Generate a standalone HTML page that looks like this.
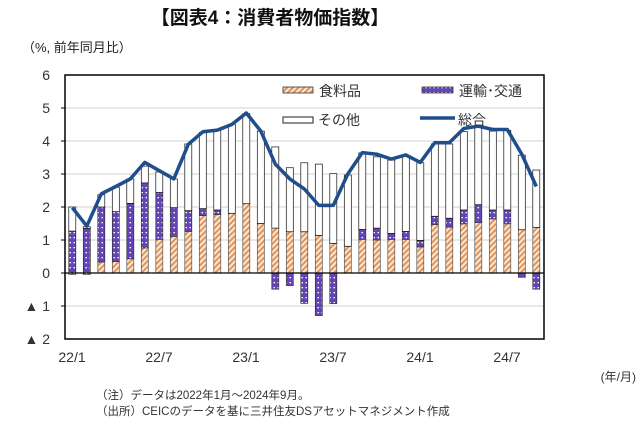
<!DOCTYPE html>
<html><head><meta charset="utf-8"><style>
body{margin:0;background:#fff;width:640px;height:425px;overflow:hidden;font-family:"Liberation Sans","Noto Sans CJK JP",sans-serif;}
svg{display:block}
</style></head><body>
<svg id="c" width="640" height="425" xmlns="http://www.w3.org/2000/svg" font-family="'Liberation Sans','Noto Sans CJK JP',sans-serif">
<defs>
<pattern id="pf" width="4" height="4" patternUnits="userSpaceOnUse" patternTransform="rotate(45)">
<rect width="4" height="4" fill="#fbe8d6"/><rect width="2" height="4" fill="#e0945a"/></pattern>
<pattern id="pt" width="4" height="5" patternUnits="userSpaceOnUse">
<rect width="4" height="5" fill="#6445b8"/><rect x="1.5" y="2" width="1.5" height="1.3" fill="#fff"/></pattern>
</defs>
<text x="270" y="24" font-size="19" font-weight="bold" text-anchor="middle" fill="#111">【図表4：消費者物価指数】</text>
<text x="22" y="52" font-size="13" fill="#222">（%, 前年同月比）</text>
<g stroke="#d9d9d9" stroke-width="1.3">
<line x1="65" x2="544" y1="108" y2="108"/><line x1="65" x2="544" y1="141" y2="141"/><line x1="65" x2="544" y1="174" y2="174"/><line x1="65" x2="544" y1="207" y2="207"/><line x1="65" x2="544" y1="240" y2="240"/><line x1="65" x2="544" y1="306" y2="306"/>
</g>
<g id="bars"></g>
<line x1="65" x2="544" y1="273" y2="273" stroke="#000" stroke-width="1.3"/>
<polyline id="ln" fill="none" stroke="#1f4e8c" stroke-width="3.5" stroke-linejoin="round"/>
<rect x="65" y="75" width="479" height="264" fill="none" stroke="#000" stroke-width="1.5"/>
<g stroke="#000"><line x1="61" x2="65" y1="108" y2="108"/><line x1="61" x2="65" y1="141" y2="141"/><line x1="61" x2="65" y1="174" y2="174"/><line x1="61" x2="65" y1="207" y2="207"/><line x1="61" x2="65" y1="240" y2="240"/><line x1="61" x2="65" y1="273" y2="273"/><line x1="61" x2="65" y1="306" y2="306"/></g>
<g font-size="14" fill="#333" text-anchor="end">
<text x="50" y="80">6</text><text x="50" y="113">5</text><text x="50" y="146">4</text><text x="50" y="179">3</text><text x="50" y="212">2</text><text x="50" y="245">1</text><text x="50" y="278">0</text><text x="50" y="311">▲ 1</text><text x="50" y="344">▲ 2</text>
</g>
<g font-size="14" fill="#333" text-anchor="middle">
<text x="72" y="362">22/1</text><text x="159" y="362">22/7</text><text x="246" y="362">23/1</text><text x="333" y="362">23/7</text><text x="420" y="362">24/1</text><text x="507" y="362">24/7</text>
</g>
<text x="636" y="381" font-size="12" fill="#333" text-anchor="end">(年/月)</text>
<text x="96" y="399" font-size="11.5" fill="#333">（注）データは2022年1月～2024年9月。</text>
<text x="96" y="415" font-size="11.5" fill="#333">（出所）CEICのデータを基に三井住友DSアセットマネジメント作成</text>
<rect x="283" y="87" width="30" height="6" fill="url(#pf)" stroke="#333" stroke-width="0.8"/>
<text x="319" y="96" font-size="14" fill="#333">食料品</text>
<rect x="422" y="87" width="31" height="6" fill="url(#pt)" stroke="#333" stroke-width="0.8"/>
<text x="459" y="96" font-size="14" fill="#333">運輸･交通</text>
<rect x="283" y="117" width="30" height="6" fill="#fff" stroke="#222" stroke-width="1"/>
<text x="318" y="125" font-size="14" fill="#333">その他</text>
<line x1="420" x2="455" y1="118" y2="118" stroke="#1f4e8c" stroke-width="3.5"/>
<text x="458" y="125" font-size="14" fill="#333">総合</text>
</svg>
<script>
var F=[-0.05,-0.05,0.33,0.35,0.43,0.76,1.02,1.11,1.26,1.74,1.77,1.81,2.1,1.5,1.36,1.25,1.25,1.14,0.9,0.81,1.02,1.0,1.02,1.02,0.79,1.47,1.39,1.49,1.53,1.64,1.49,1.31,1.38];
var Tr=[1.27,1.35,1.67,1.51,1.68,1.97,1.42,0.87,0.63,0.21,0.14,0,0,0,-0.49,-0.38,-0.92,-1.29,-0.93,0,0.3,0.36,0.18,0.24,0.2,0.25,0.27,0.42,0.54,0.27,0.42,-0.13,-0.49];
var T=[2.0,1.4,2.37,2.6,2.85,3.24,3.06,2.85,3.91,4.26,4.32,4.51,4.83,4.3,3.82,3.19,3.34,3.3,3.01,2.97,3.64,3.52,3.42,3.54,3.34,3.91,3.91,4.29,4.41,4.3,4.32,3.57,3.12];
var L=[1.98,1.42,2.4,2.62,2.85,3.35,3.1,2.85,3.9,4.28,4.33,4.5,4.85,4.3,3.3,2.85,2.55,2.05,2.05,3.0,3.65,3.6,3.45,3.58,3.35,3.95,3.95,4.38,4.45,4.35,4.35,3.6,2.62];
var ns="http://www.w3.org/2000/svg",g=document.getElementById("bars");
function y(v){return 273-33*v;}
function r(x,a,b,fill,sc){if(Math.abs(b-a)<0.005)return;var e=document.createElementNS(ns,"rect");var y1=Math.min(y(a),y(b)),h=Math.abs(y(a)-y(b));e.setAttribute("x",x-3.5);e.setAttribute("y",y1);e.setAttribute("width",7);e.setAttribute("height",h);e.setAttribute("fill",fill);e.setAttribute("stroke",sc);e.setAttribute("stroke-width","0.7");g.appendChild(e);}
var pts=[];
for(var i=0;i<33;i++){var x=72.3+14.5*i;var pos=0,neg=0;
 var f=F[i],t=Tr[i];
 if(f>=0){r(x,pos,pos+f,"url(#pf)","#555");pos+=f;}else{r(x,neg,neg+f,"url(#pf)","#555");neg+=f;}
 if(t>=0){r(x,pos,pos+t,"url(#pt)","#333");pos+=t;}else{r(x,neg,neg+t,"url(#pt)","#333");neg+=t;}
 if(T[i]>pos)r(x,pos,T[i],"#fff","#111");
 pts.push(x.toFixed(1)+","+y(L[i]).toFixed(1));}
document.getElementById("ln").setAttribute("points",pts.join(" "));
</script>
</body></html>
